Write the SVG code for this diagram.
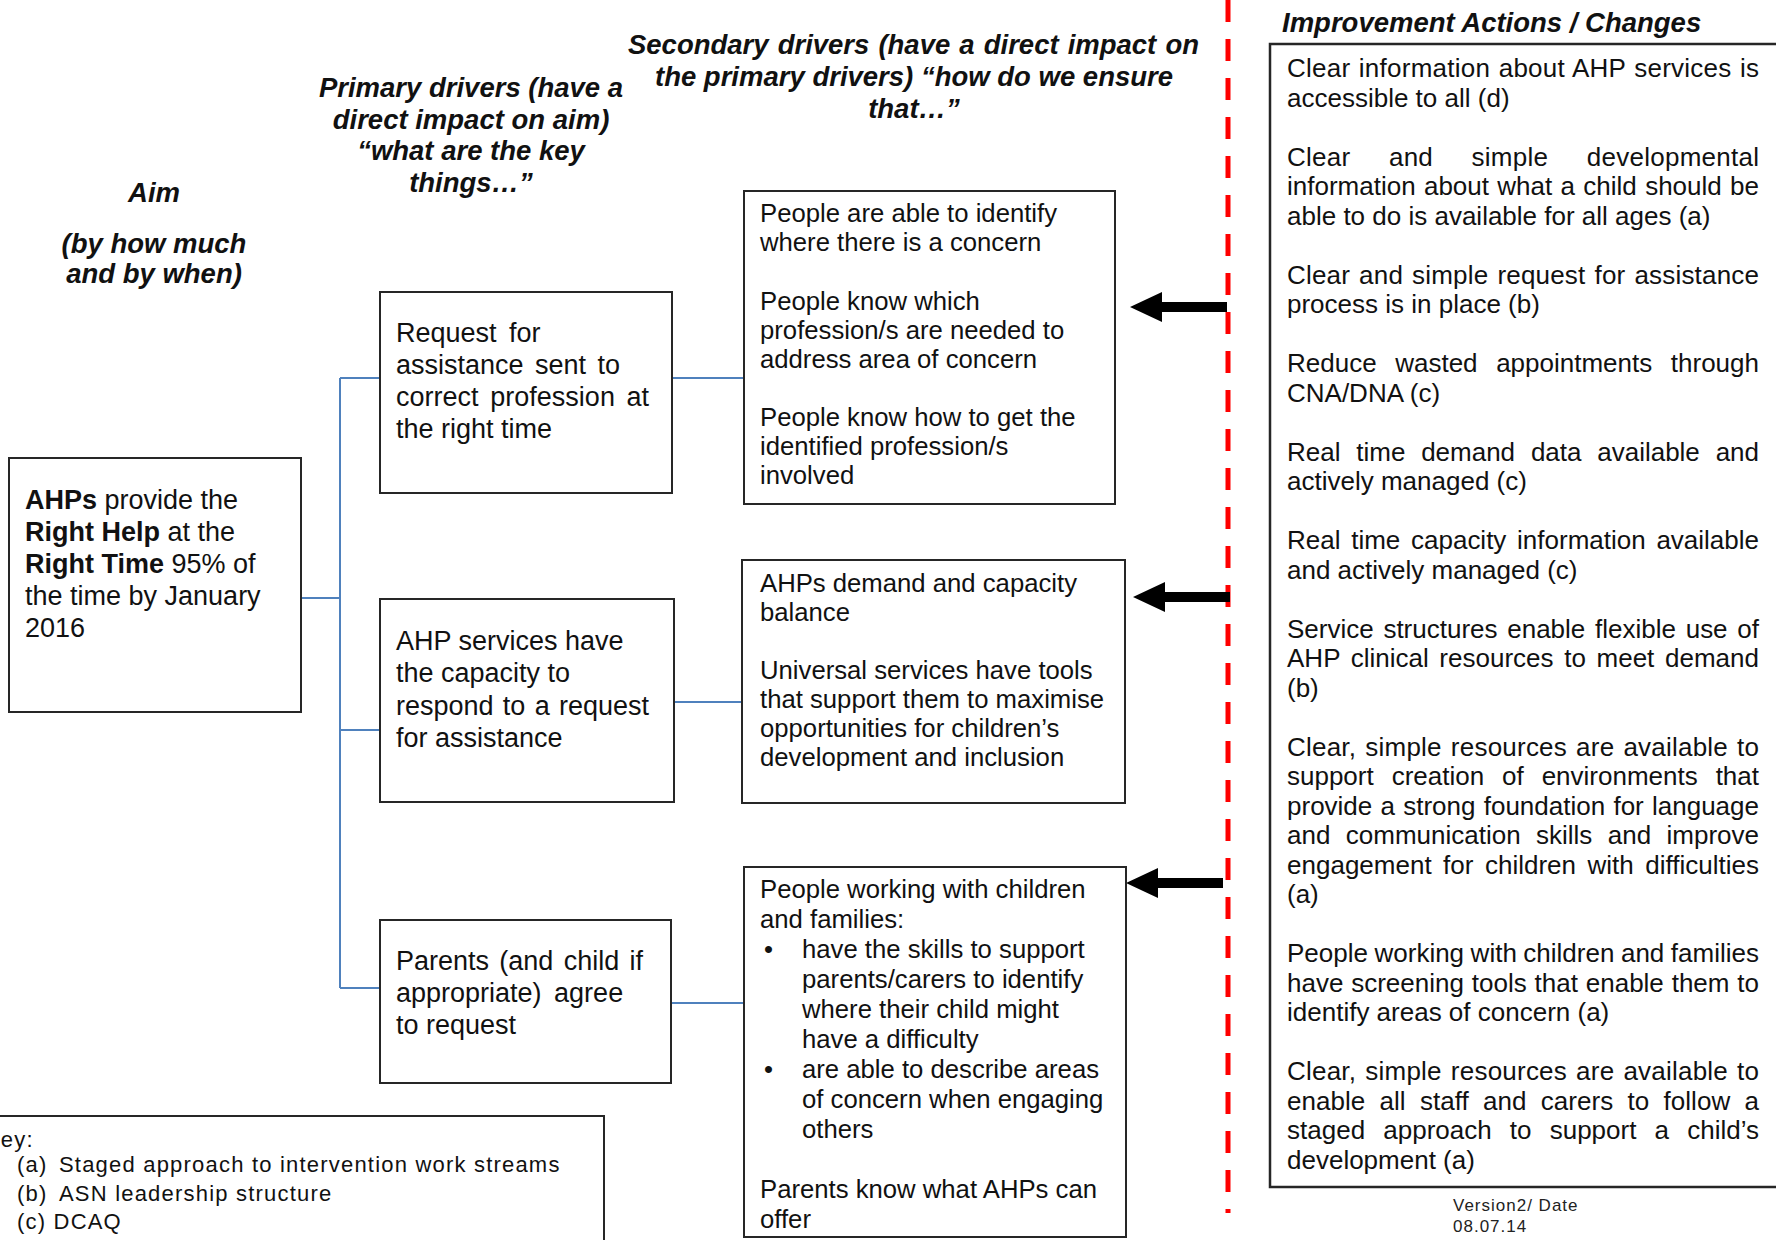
<svg xmlns="http://www.w3.org/2000/svg" xmlns:xlink="http://www.w3.org/1999/xlink" width="1776" height="1240" viewBox="0 0 1776 1240">
<style>
.box{fill:#fff;stroke:#262626;stroke-width:2}
text{font-family:"Liberation Sans",Arial,sans-serif;fill:#111}
.title{font-weight:bold;font-style:italic;font-size:27.5px}
.p{font-size:27px}
.s{font-size:25.7px}
.r{font-size:26px}
.k{font-size:22px;letter-spacing:1.2px}
.v{font-size:17px;letter-spacing:1px;fill:#222}
.b{font-weight:bold}
.conn{stroke:#4F81BD;stroke-width:2;fill:none}
.red{stroke:#FF0000;stroke-width:5;stroke-dasharray:22 17;fill:none}
</style>
<defs>
<path id="arr" d="M0,0 L32,-15 L32,-5 L97,-5 L97,5 L32,5 L32,15 Z" fill="#000"/>
</defs>

<g id="headings">
<text class="title" x="154" y="202" text-anchor="middle">Aim</text>
<text class="title" x="154" y="253" text-anchor="middle">(by how much</text>
<text class="title" x="154" y="283" text-anchor="middle">and by when)</text>
<text class="title" x="471" y="97" text-anchor="middle">Primary drivers (have a</text>
<text class="title" x="471" y="129" text-anchor="middle">direct impact on aim)</text>
<text class="title" x="471" y="160" text-anchor="middle">“what are the key</text>
<text class="title" x="471" y="192" text-anchor="middle">things…”</text>
<text class="title" x="628" y="54" word-spacing="1.5" textLength="571" lengthAdjust="spacing">Secondary drivers (have a direct impact on</text>
<text class="title" x="914" y="86" text-anchor="middle">the primary drivers) “how do we ensure</text>
<text class="title" x="914" y="118" text-anchor="middle">that…”</text>
<text class="title" x="1282" y="32">Improvement Actions / Changes</text>
</g>

<g id="divider">
<line class="red" x1="1228" y1="0" x2="1228" y2="1213"/>
</g>

<g id="connectors">
<path class="conn" d="M301,598 H340 M340,378 V988 M340,378 H380 M340,730 H380 M340,988 H380 M672,378 H743 M674,702 H742 M671,1003 H744"/>
<use xlink:href="#arr" href="#arr" transform="translate(1130,307)"/>
<use xlink:href="#arr" href="#arr" transform="translate(1133,597)"/>
<use xlink:href="#arr" href="#arr" transform="translate(1126,883)"/>
</g>

<g id="aim">
<rect class="box" x="9" y="458" width="292" height="254"/>
<text class="p" x="25" y="509"><tspan class="b">AHPs</tspan> provide the</text>
<text class="p" x="25" y="541"><tspan class="b">Right Help</tspan> at the</text>
<text class="p" x="25" y="573"><tspan class="b">Right Time</tspan> 95% of</text>
<text class="p" x="25" y="605">the time by January</text>
<text class="p" x="25" y="637">2016</text>
</g>

<g id="primary1">
<rect class="box" x="380" y="292" width="292" height="201"/>
<text class="p" x="396" y="342" word-spacing="5">Request for</text>
<text class="p" x="396" y="374" word-spacing="4">assistance sent to</text>
<text class="p" x="396" y="406" word-spacing="4" textLength="253" lengthAdjust="spacing">correct profession at</text>
<text class="p" x="396" y="438">the right time</text>
</g>

<g id="primary2">
<rect class="box" x="380" y="599" width="294" height="203"/>
<text class="p" x="396" y="650">AHP services have</text>
<text class="p" x="396" y="682">the capacity to</text>
<text class="p" x="396" y="715" word-spacing="1.8" textLength="253" lengthAdjust="spacing">respond to a request</text>
<text class="p" x="396" y="747">for assistance</text>
</g>

<g id="primary3">
<rect class="box" x="380" y="920" width="291" height="163"/>
<text class="p" x="396" y="970" word-spacing="2.8">Parents (and child if</text>
<text class="p" x="396" y="1002" word-spacing="5">appropriate) agree</text>
<text class="p" x="396" y="1034">to request</text>
</g>

<g id="secondary1">
<rect class="box" x="744" y="191" width="371" height="313"/>
<text class="s" x="760" y="222">People are able to identify</text>
<text class="s" x="760" y="251">where there is a concern</text>
<text class="s" x="760" y="310">People know which</text>
<text class="s" x="760" y="339">profession/s are needed to</text>
<text class="s" x="760" y="368">address area of concern</text>
<text class="s" x="760" y="426">People know how to get the</text>
<text class="s" x="760" y="455">identified profession/s</text>
<text class="s" x="760" y="484">involved</text>
</g>

<g id="secondary2">
<rect class="box" x="742" y="560" width="383" height="243"/>
<text class="s" x="760" y="592">AHPs demand and capacity</text>
<text class="s" x="760" y="621">balance</text>
<text class="s" x="760" y="679">Universal services have tools</text>
<text class="s" x="760" y="708">that support them to maximise</text>
<text class="s" x="760" y="737">opportunities for children’s</text>
<text class="s" x="760" y="766">development and inclusion</text>
</g>

<g id="secondary3">
<rect class="box" x="744" y="867" width="382" height="370"/>
<text class="s" x="760" y="898">People working with children</text>
<text class="s" x="760" y="928">and families:</text>
<text class="s" x="764" y="958">•</text>
<text class="s" x="802" y="958">have the skills to support</text>
<text class="s" x="802" y="988">parents/carers to identify</text>
<text class="s" x="802" y="1018">where their child might</text>
<text class="s" x="802" y="1048">have a difficulty</text>
<text class="s" x="764" y="1078">•</text>
<text class="s" x="802" y="1078">are able to describe areas</text>
<text class="s" x="802" y="1108">of concern when engaging</text>
<text class="s" x="802" y="1138">others</text>
<text class="s" x="760" y="1198">Parents know what AHPs can</text>
<text class="s" x="760" y="1228">offer</text>
</g>

<g id="improvement-actions">
<rect class="box" x="1270" y="44" width="530" height="1143" style="stroke-width:2.5"/>
<text class="r" x="1287" y="77" word-spacing="1" textLength="472" lengthAdjust="spacing">Clear information about AHP services is</text>
<text class="r" x="1287" y="106.5">accessible to all (d)</text>
<text class="r" x="1287" y="165.5" word-spacing="31" textLength="472" lengthAdjust="spacing">Clear and simple developmental</text>
<text class="r" x="1287" y="195" word-spacing="1.1" textLength="472" lengthAdjust="spacing">information about what a child should be</text>
<text class="r" x="1287" y="224.5">able to do is available for all ages (a)</text>
<text class="r" x="1287" y="283.5" word-spacing="1.6" textLength="472" lengthAdjust="spacing">Clear and simple request for assistance</text>
<text class="r" x="1287" y="313">process is in place (b)</text>
<text class="r" x="1287" y="372" word-spacing="11.4" textLength="472" lengthAdjust="spacing">Reduce wasted appointments through</text>
<text class="r" x="1287" y="401.5">CNA/DNA (c)</text>
<text class="r" x="1287" y="460.5" word-spacing="8.6" textLength="472" lengthAdjust="spacing">Real time demand data available and</text>
<text class="r" x="1287" y="490">actively managed (c)</text>
<text class="r" x="1287" y="549" word-spacing="3.5" textLength="472" lengthAdjust="spacing">Real time capacity information available</text>
<text class="r" x="1287" y="578.5">and actively managed (c)</text>
<text class="r" x="1287" y="637.5" word-spacing="2.5" textLength="472" lengthAdjust="spacing">Service structures enable flexible use of</text>
<text class="r" x="1287" y="667" word-spacing="3.4" textLength="472" lengthAdjust="spacing">AHP clinical resources to meet demand</text>
<text class="r" x="1287" y="696.5">(b)</text>
<text class="r" x="1287" y="755.5" word-spacing="1.6" textLength="472" lengthAdjust="spacing">Clear, simple resources are available to</text>
<text class="r" x="1287" y="785" word-spacing="10.7" textLength="472" lengthAdjust="spacing">support creation of environments that</text>
<text class="r" x="1287" y="814.5" word-spacing="1" textLength="472" lengthAdjust="spacing">provide a strong foundation for language</text>
<text class="r" x="1287" y="844" word-spacing="8.2" textLength="472" lengthAdjust="spacing">and communication skills and improve</text>
<text class="r" x="1287" y="873.5" word-spacing="4.2" textLength="472" lengthAdjust="spacing">engagement for children with difficulties</text>
<text class="r" x="1287" y="903">(a)</text>
<text class="r" x="1287" y="962" word-spacing="-0.7" textLength="472" lengthAdjust="spacing">People working with children and families</text>
<text class="r" x="1287" y="991.5" word-spacing="0.6" textLength="472" lengthAdjust="spacing">have screening tools that enable them to</text>
<text class="r" x="1287" y="1021">identify areas of concern (a)</text>
<text class="r" x="1287" y="1080" word-spacing="1.6" textLength="472" lengthAdjust="spacing">Clear, simple resources are available to</text>
<text class="r" x="1287" y="1109.5" word-spacing="7.1" textLength="472" lengthAdjust="spacing">enable all staff and carers to follow a</text>
<text class="r" x="1287" y="1139" word-spacing="10.9" textLength="472" lengthAdjust="spacing">staged approach to support a child’s</text>
<text class="r" x="1287" y="1168.5">development (a)</text>
</g>

<g id="version">
<text class="v" x="1453" y="1211">Version2/ Date</text>
<text class="v" x="1453" y="1232">08.07.14</text>
</g>

<g id="key">
<rect class="box" x="-5" y="1116" width="609" height="200"/>
<text class="k" x="-15" y="1147">Key:</text>
<text class="k" x="17" y="1172">(a)</text>
<text class="k" x="59" y="1172">Staged approach to intervention work streams</text>
<text class="k" x="17" y="1201">(b)</text>
<text class="k" x="59" y="1201">ASN leadership structure</text>
<text class="k" x="17" y="1229">(c) DCAQ</text>
</g>
</svg>
